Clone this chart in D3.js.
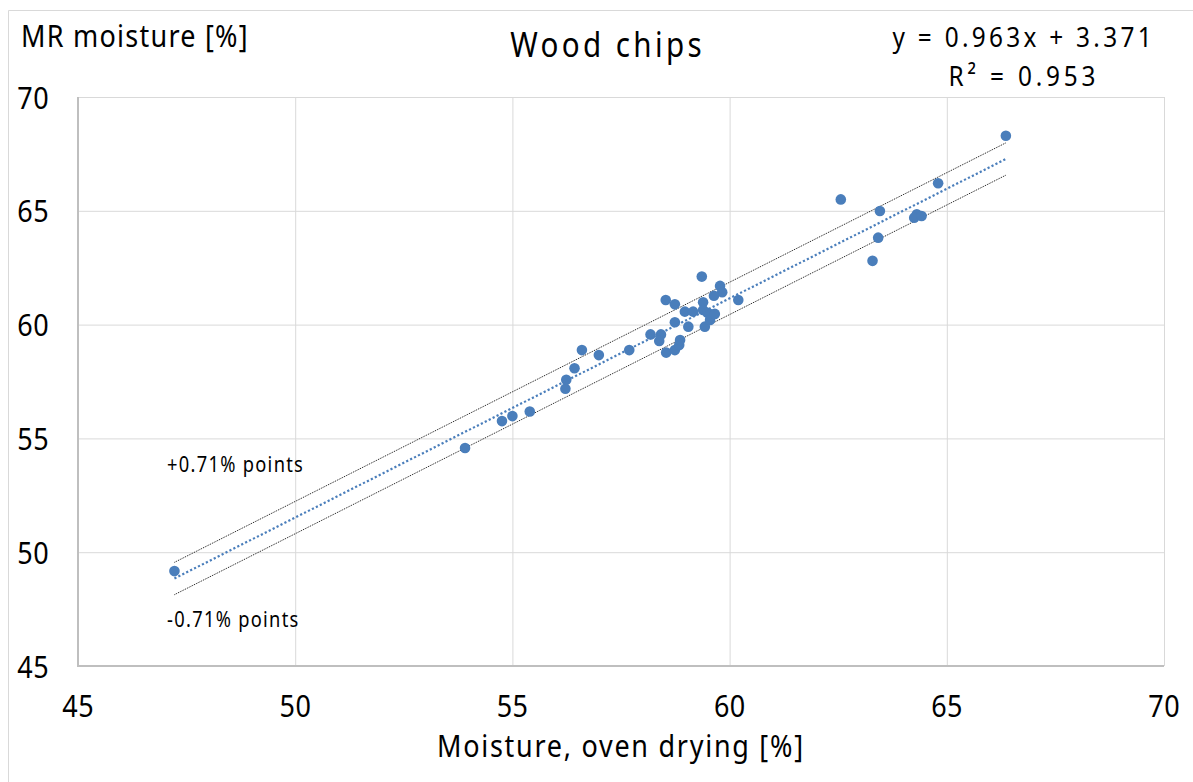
<!DOCTYPE html>
<html>
<head>
<meta charset="utf-8">
<script src="https://cdn.jsdelivr.net/npm/d3@7"></script>
<style>
  html, body { margin: 0; padding: 0; background: #fff; }
  svg { display: block; }
  text { font-family: "Noto Sans", "Open Sans", sans-serif; fill: #000; }
</style>
</head>
<body>
<svg id="chart" width="1193" height="782"></svg>
<script>
// Oven-drying moisture (x) vs. MR moisture reading (y), wood chips, in %
const ovenMoisture = [
  47.22, 53.91, 54.76, 55.00, 55.40, 56.22, 56.24, 56.43, 56.60, 56.99,
  57.69, 58.18, 58.42, 58.38, 58.54, 58.74, 58.84, 58.86, 58.74, 59.05,
  59.43, 58.53, 58.74, 59.36, 59.39, 59.78, 59.83, 59.64, 60.20, 58.97,
  59.16, 59.39, 59.57, 59.49, 59.55, 59.66, 62.56, 63.46, 63.42, 63.29,
  64.31, 64.25, 64.42, 64.80, 66.36
];
const mrMoisture = [
  49.17, 54.58, 55.76, 55.98, 56.18, 57.18, 57.58, 58.08, 58.88, 58.66,
  58.88, 59.57, 59.57, 59.28, 58.77, 58.88, 59.10, 59.32, 60.10, 59.91,
  59.91, 61.08, 60.89, 62.11, 60.98, 61.70, 61.42, 61.27, 61.08, 60.57,
  60.57, 60.64, 60.45, 60.52, 60.20, 60.47, 65.50, 64.99, 63.82, 62.80,
  64.85, 64.70, 64.77, 66.21, 68.30
];

// Linear trend and tolerance band
const slope = 0.963;
const intercept = 3.371;
const rSquared = 0.953;
const band = 0.71;

const xTicks = [45, 50, 55, 60, 65, 70];
const yTicks = [45, 50, 55, 60, 65, 70];

const titleText = "Wood chips";
const xTitle = "Moisture, oven drying [%]";
const yTitle = "MR moisture [%]";

const svg = d3.select("#chart");
const plot = { left: 78, right: 1164, top: 97, bottom: 666 };
const sx = 0.87; // horizontal text compression

const x = d3.scaleLinear().domain([45, 70]).range([plot.left, plot.right]);
const y = d3.scaleLinear().domain([45, 70]).range([plot.bottom, plot.top]);

// text helper: narrow glyphs with optional extra tracking
function label(txt, px, py, size, anchor, spacing) {
  const ls = spacing || 0;
  const shift = anchor === "middle" ? ls * sx / 2 : 0;
  return svg.append("text")
    .attr("transform", `translate(${px + shift},${py}) scale(${sx},1)`)
    .attr("text-anchor", anchor || "start")
    .attr("font-size", size)
    .attr("letter-spacing", ls)
    .text(txt);
}

// outer chart frame
svg.append("path")
  .attr("d", "M8.5,782 V10.5 H1193")
  .attr("fill", "none").attr("stroke", "#d9d9d9").attr("stroke-width", 1);

// gridlines
svg.append("g")
  .attr("transform", `translate(0,${plot.bottom})`)
  .call(d3.axisBottom(x).tickValues(xTicks).tickSize(-(plot.bottom - plot.top)).tickFormat(""))
  .call(g => g.select(".domain").remove())
  .call(g => g.selectAll("line").attr("stroke", "#d9d9d9").attr("stroke-width", 1));
svg.append("g")
  .attr("transform", `translate(${plot.left},0)`)
  .call(d3.axisLeft(y).tickValues(yTicks).tickSize(-(plot.right - plot.left)).tickFormat(""))
  .call(g => g.select(".domain").remove())
  .call(g => g.selectAll("line").attr("stroke", "#d9d9d9").attr("stroke-width", 1));

// axis lines
svg.append("path")
  .attr("d", `M${plot.left},${plot.top} V${plot.bottom} H${plot.right}`)
  .attr("fill", "none").attr("stroke", "#bfbfbf").attr("stroke-width", 2);

// tick labels
xTicks.forEach(t => label(String(t), x(t), 717, 31, "middle", 0.5));
yTicks.forEach(t => label(String(t), 49, y(t) + 11.5, 31, "end", 0.5));

// trend line and tolerance band over the data range
const xMin = d3.min(ovenMoisture), xMax = d3.max(ovenMoisture);
const trendPts = off => [xMin, xMax].map(v => [x(v), y(slope * v + intercept + off)]);
const line = d3.line();

[band, -band].forEach(off => {
  svg.append("path").attr("d", line(trendPts(off)))
    .attr("fill", "none").attr("stroke", "#111").attr("stroke-width", 1)
    .attr("stroke-dasharray", "1,1");
});

// points
svg.append("g").selectAll("circle")
  .data(ovenMoisture.map((v, i) => [v, mrMoisture[i]]))
  .join("circle")
  .attr("cx", d => x(d[0]))
  .attr("cy", d => y(d[1]))
  .attr("r", 5.3)
  .attr("fill", "#4a7ebb");

svg.append("path").attr("d", line(trendPts(0)))
  .attr("fill", "none").attr("stroke", "#4a7ebb").attr("stroke-width", 2.2)
  .attr("stroke-dasharray", "2.2,2.2");

// band annotations
label("+0.71% points", 167, 472, 21, "start", 1.5);
label("-0.71% points", 167, 627, 21, "start", 1.5);

// titles
label(titleText, 606, 57, 34, "middle", 3.9);
label(yTitle, 21, 47, 31, "start", 1.45);
label(xTitle, 620, 757, 31, "middle", 2.0);

// regression equation
label(`y = ${slope.toFixed(3)}x + ${intercept.toFixed(3)}`, 1022, 47, 28, "middle", 3.8);
label(`R² = ${rSquared.toFixed(3)}`, 1022, 86, 28, "middle", 4.4);
</script>
</body>
</html>
